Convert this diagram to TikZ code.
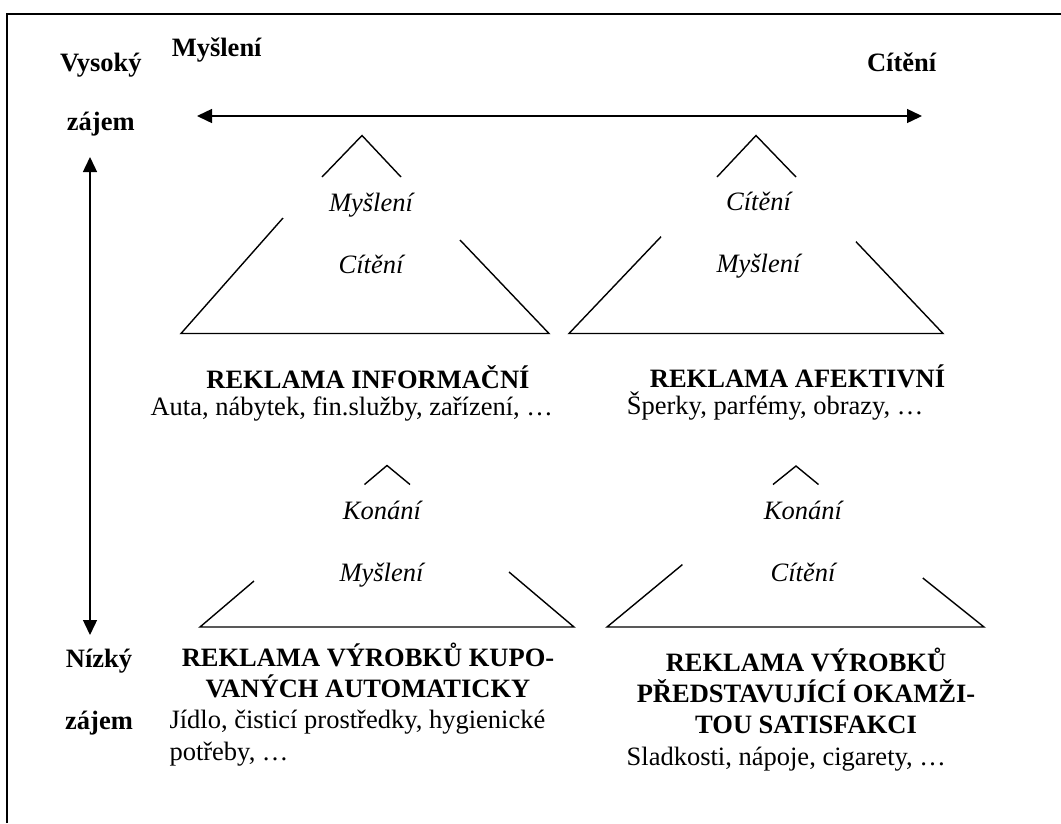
\documentclass[tikz,border=0pt]{standalone}
\usepackage{fontspec}
\setmainfont{Liberation Serif}
\usetikzlibrary{arrows.meta}
\begin{document}
\begin{tikzpicture}[x=1pt,y=-1pt,
  lbl/.style={inner sep=0pt, anchor=base, font=\fontsize{26.5}{31}\selectfont},
  hd/.style={lbl, font=\fontsize{26.5}{31}\selectfont\bfseries},
  it/.style={lbl, font=\fontsize{26.5}{31}\selectfont\itshape},
  txt/.style={lbl, anchor=base west},
  ln/.style={line width=1.4pt, line join=miter, line cap=butt},
  dblarrow/.style={ln, arrows={Triangle[length=15pt,width=14pt]-Triangle[length=15pt,width=14pt]}},
  frame/.style={line width=2pt}]
\useasboundingbox (0,0) rectangle (1061,823);

% frame (top and left edges)
\draw[frame] (7,823) -- (7,14) -- (1061,14);

% axis labels
\node[hd] (myslTop) at (216.7,56) {Myšlení};
\node[hd] (citTop)  at (901.6,71) {Cítění};
\node[hd] (vys)     at (100.8,71) {Vysoký};
\node[hd] (zajHi)   at (100.8,130) {zájem};
\node[hd] (niz)     at (99,667) {Nízký};
\node[hd] (zajLo)   at (99,729) {zájem};

% axes
\coordinate (hL) at (197,116);
\coordinate (hR) at (922,116);
\coordinate (vT) at (90,157);
\coordinate (vB) at (90,635);
\draw[dblarrow] (hL) -- (hR);
\draw[dblarrow] (vT) -- (vB);

% informative advertising
\draw[ln] (322,177) -- (362,135.5) -- (401,177);
\draw[ln] (283,218) -- (181,333.5) -- (549,333.5) -- (460,240);
\node[it] (ti1) at (371,211) {Myšlení};
\node[it] (ti2) at (371,273) {Cítění};
\node[hd] (hInf) at (368,388) {REKLAMA INFORMAČNÍ};
\node[txt] (eInf) at (150.4,415) {Auta, nábytek, fin.služby, zařízení, …};

% affective advertising
\draw[ln] (717,177) -- (756,135.5) -- (796,177);
\draw[ln] (661,236.7) -- (569,333.5) -- (943,333.5) -- (856,241.7);
\node[it] (ta1) at (758.5,210) {Cítění};
\node[it] (ta2) at (758.5,272) {Myšlení};
\node[hd] (hAf) at (797.5,387) {REKLAMA AFEKTIVNÍ};
\node[txt] (eAf) at (626.7,414) {Šperky, parfémy, obrazy, …};

% habitual purchases
\draw[ln] (364.5,484.5) -- (387,465.5) -- (410,484.5);
\draw[ln] (254,581) -- (200,627) -- (574,627) -- (509,572);
\node[it] (tk1) at (382,519) {Konání};
\node[it] (tk2) at (381.5,581) {Myšlení};
\node[hd] (hKa) at (368,666) {REKLAMA VÝROBKŮ KUPO-};
\node[hd] (hKb) at (368,697) {VANÝCH AUTOMATICKY};
\node[txt] (eKa) at (169.3,728) {Jídlo, čisticí prostředky, hygienické};
\node[txt] (eKb) at (169.3,760) {potřeby, …};

% instant satisfaction
\draw[ln] (773,484.5) -- (796,466) -- (818.5,484.5);
\draw[ln] (682.4,564.6) -- (607,627) -- (984,627) -- (922.8,578);
\node[it] (ts1) at (803,519) {Konání};
\node[it] (ts2) at (803,581) {Cítění};
\node[hd] (hSa) at (806,671) {REKLAMA VÝROBKŮ};
\node[hd] (hSb) at (806,702) {PŘEDSTAVUJÍCÍ OKAMŽI-};
\node[hd] (hSc) at (806,733) {TOU SATISFAKCI};
\node[txt] (eS) at (626.5,765) {Sladkosti, nápoje, cigarety, …};
\end{tikzpicture}
\end{document}
